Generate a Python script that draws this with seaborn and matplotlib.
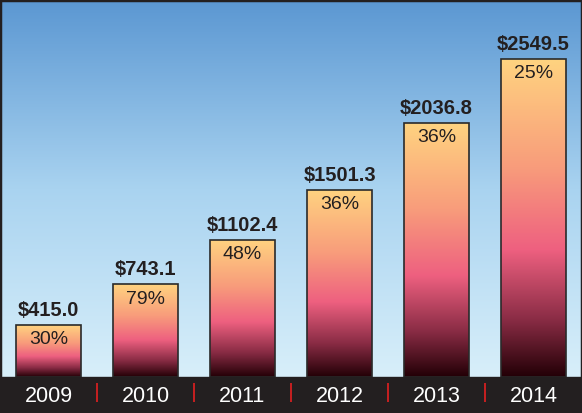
import matplotlib
matplotlib.use("Agg")
import matplotlib.pyplot as plt
import numpy as np
import pandas as pd
import seaborn as sns
from matplotlib.colors import LinearSegmentedColormap

# chart data
years = ["2009", "2010", "2011", "2012", "2013", "2014"]
values = [415.0, 743.1, 1102.4, 1501.3, 2036.8, 2549.5]
growth = ["30%", "79%", "48%", "36%", "36%", "25%"]

df = pd.DataFrame({"year": years, "value": values})

sns.set_theme(style="white")
plt.rcParams["font.family"] = ["Liberation Sans", "DejaVu Sans"]

fig = plt.figure(figsize=(5.82, 4.13), dpi=100)
ax = fig.add_axes([0, 0, 1, 1])

band = 289      # height of the dark year strip in data units
ytop = 3024
ax.set_xlim(-0.51, 5.52)
ax.set_ylim(-band, ytop)

# sky-like background gradient
bg = LinearSegmentedColormap.from_list("bg", ["#d8effa", "#a9d3f0", "#5b97d2"])
grad = np.linspace(0, 1, 256).reshape(-1, 1)
ax.imshow(grad, cmap=bg, origin="lower", aspect="auto",
          extent=[-0.51, 5.52, 0, ytop], zorder=0)

sns.barplot(data=df, x="year", y="value", ax=ax, width=0.67,
            color="#f08080", edgecolor="#2a2a2a", linewidth=1.2, zorder=2)

# gradient fill inside each bar
bar_cmap = LinearSegmentedColormap.from_list(
    "bar", [(0.0, "#230006"), (0.18, "#8a2c45"), (0.4, "#ee6080"),
            (0.66, "#f89c7b"), (1.0, "#ffd380")])
for patch in ax.patches:
    x0, w, h = patch.get_x(), patch.get_width(), patch.get_height()
    im = ax.imshow(grad, cmap=bar_cmap, origin="lower", aspect="auto",
                   extent=[x0, x0 + w, 0, h], zorder=3)
    im.set_clip_path(patch)
    patch.set_facecolor("none")
    patch.set_zorder(4)

for i, (v, g) in enumerate(zip(values, growth)):
    ax.text(i, v + 40, f"${v:.1f}", ha="center", va="bottom",
            fontsize=14.5, fontweight="bold", color="#231f20", zorder=5)
    ax.text(i, v - 118, g, ha="center", va="center",
            fontsize=14, color="#231f20", zorder=5)

# dark year strip at the bottom
ax.axhspan(-band, 0, color="#231f20", zorder=4)
for i, y in enumerate(years):
    ax.text(i, -band * 0.55, y, ha="center", va="center",
            fontsize=15.5, color="white", zorder=5)
for i in range(len(years) - 1):
    ax.vlines(i + 0.5, -band * 0.70, -band * 0.17, color="#d42020",
              linewidth=1.3, zorder=5)

ax.set_xlabel("")
ax.set_ylabel("")
ax.set_xticks([])
ax.set_yticks([])
for s in ax.spines.values():
    s.set_visible(True)
    s.set_color("#231f20")
    s.set_linewidth(2.5)

fig.savefig("out.png", dpi=100)
